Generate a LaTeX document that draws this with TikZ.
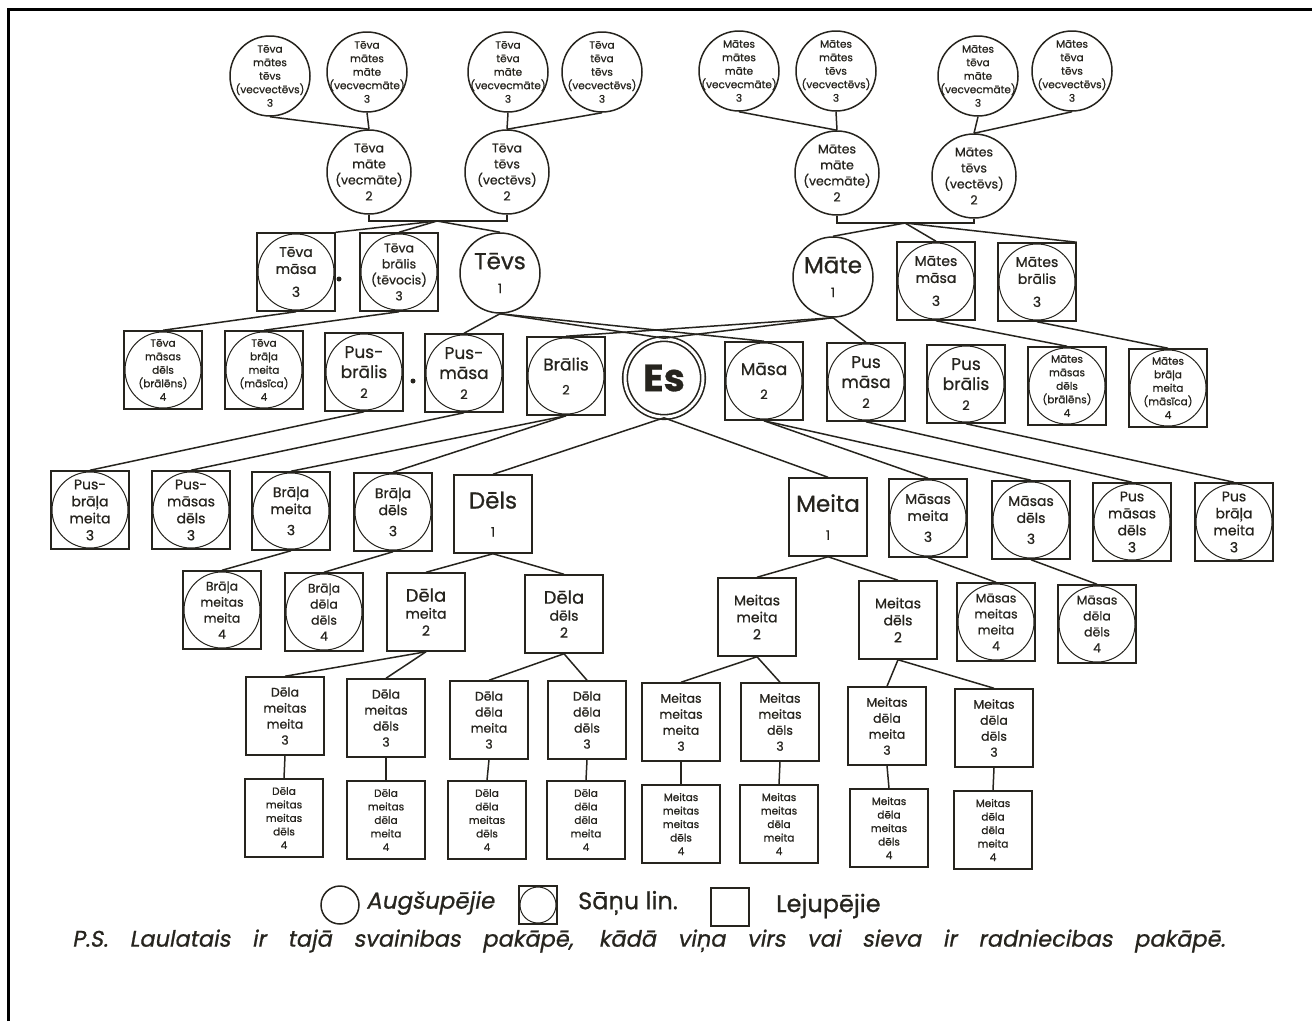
\documentclass[tikz,border=0pt]{standalone}
\usepackage{fontspec}
\newfontfamily\hand[FakeBold=0.8]{Poppins}
\newfontfamily\handsl[FakeSlant=0.18,FakeBold=0.8]{Poppins}
\definecolor{ink}{RGB}{38,36,30}
\tikzset{
  saite/.style={ink,line width=1.5pt},
  base/.style={draw=ink,line width=1.5pt,inner sep=-30pt,align=center,text=ink},
  augs/.style={base,circle,minimum size=80pt},
  leju/.style={base,rectangle,minimum size=78pt},
  sanu/.style={leju,path picture={\draw[ink,line width=1pt] (path picture bounding box.center) circle[radius=#1];}},
  sanu/.default=38pt,
  tfive/.style={font=\hand\fontsize{10.5}{13.5}\selectfont},
  tfour/.style={font=\hand\fontsize{12.5}{16}\selectfont},
  tthree/.style={font=\hand\fontsize{14}{17}\selectfont},
  ttwo/.style={font=\hand\fontsize{17}{20}\selectfont},
  tbig/.style={font=\hand\fontsize{23}{26}\selectfont},
  legtxt/.style={font=\hand\fontsize{24}{26}\selectfont,text=ink,anchor=west,inner sep=0pt}
}
\begin{document}
\begin{tikzpicture}[x=1pt,y=-1pt]
\useasboundingbox (0,0) rectangle (1312,1021);
\draw[black,line width=3pt] (8,1021) -- (8,9) -- (1312,9);

\node[augs,tfive] (tmt) at (270,76) {Tēva\\mātes\\tēvs\\(vecvectēvs)\\3};
\node[augs,tfive] (tmm) at (367,72) {Tēva\\mātes\\māte\\(vecvecmāte)\\3};
\node[augs,tfive] (ttm) at (508,72) {Tēva\\tēva\\māte\\(vecvecmāte)\\3};
\node[augs,tfive] (ttt) at (602,72) {Tēva\\tēva\\tēvs\\(vecvectēvs)\\3};
\node[augs,tfive] (mmm) at (739,71) {Mātes\\mātes\\māte\\(vecvecmāte)\\3};
\node[augs,tfive] (mmt) at (836,71) {Mātes\\mātes\\tēvs\\(vecvectēvs)\\3};
\node[augs,tfive] (mtm) at (978,76) {Mātes\\tēva\\māte\\(vecvecmāte)\\3};
\node[augs,tfive] (mtt) at (1072,71) {Mātes\\tēva\\tēvs\\(vecvectēvs)\\3};

\node[augs,tfour,minimum size=84pt] (tm) at (369,172) {Tēva\\māte\\(vecmāte)\\2};
\node[augs,tfour,minimum size=84pt] (tt) at (507,172) {Tēva\\tēvs\\(vectēvs)\\2};
\node[augs,tfour,minimum size=84pt] (mm) at (837,173) {Mātes\\māte\\(vecmāte)\\2};
\node[augs,tfour,minimum size=84pt] (mt) at (974,176) {Mātes\\tēvs\\(vectēvs)\\2};

\node[sanu,tthree] (tmasa) at (296,272) {Tēva\\māsa\\[6pt]3};
\node[sanu,tfour] (tbr) at (399,272) {Tēva\\brālis\\(tēvocis)\\3};
\node[augs,tbig] (tevs) at (500,273) {Tēvs\\[-2pt]{\fontsize{13}{13}\selectfont 1}};
\node[augs,tbig] (mate) at (833,277) {Māte\\[-2pt]{\fontsize{13}{13}\selectfont 1}};
\node[sanu,tthree] (mmasa) at (936,281) {Mātes\\māsa\\[6pt]3};
\node[sanu,tthree] (mbr) at (1037,282) {Mātes\\brālis\\[6pt]3};
\fill[ink] (339,279) circle (2.5);

\node[sanu,tfive] (tmd) at (163,370) {Tēva\\māsas\\dēls\\(brālēns)\\4};
\node[sanu,tfive] (tbm) at (264,370) {Tēva\\brāļa\\meita\\(māsīca)\\4};
\node[sanu,ttwo] (pbr) at (364,372) {Pus-\\brālis\\{\fontsize{13}{13}\selectfont 2}};
\fill[ink] (413,381) circle (2.5);
\node[sanu,ttwo] (pms) at (464,373) {Pus-\\māsa\\{\fontsize{13}{13}\selectfont 2}};
\node[sanu,ttwo] (bralis) at (566,376) {Brālis\\[4pt]{\fontsize{13}{13}\selectfont 2}};
\node[augs,minimum size=78pt,double=white,double distance=3pt,line width=1.6pt,
  font=\hand\bfseries\fontsize{38}{38}\selectfont] (es) at (664,378) {Es};
\node[sanu,ttwo] (masa) at (764,381) {Māsa\\[4pt]{\fontsize{13}{13}\selectfont 2}};
\node[sanu,ttwo] (pms2) at (866,382) {Pus\\māsa\\{\fontsize{13}{13}\selectfont 2}};
\node[sanu,ttwo] (pbr2) at (966,384) {Pus\\brālis\\{\fontsize{13}{13}\selectfont 2}};
\node[sanu,tfive] (mmd) at (1067,386) {Mātes\\māsas\\dēls\\(brālēns)\\4};
\node[sanu,tfive] (mbm) at (1168,388) {Mātes\\brāļa\\meita\\(māsīca)\\4};

\node[sanu,tthree] (pbm) at (90,510) {Pus-\\brāļa\\meita\\3};
\node[sanu,tthree] (pmd) at (191,510) {Pus-\\māsas\\dēls\\3};
\node[sanu,tthree] (bm) at (291,511) {Brāļa\\meita\\[4pt]3};
\node[sanu,tthree] (bd) at (393,512) {Brāļa\\dēls\\[4pt]3};
\node[leju,tbig] (dels) at (493,514) {Dēls\\[2pt]{\fontsize{13}{13}\selectfont 1}};
\node[leju,tbig] (meita) at (828,517) {Meita\\[2pt]{\fontsize{13}{13}\selectfont 1}};
\node[sanu,tthree] (msm) at (928,518) {Māsas\\meita\\[4pt]3};
\node[sanu,tthree] (msd) at (1031,520) {Māsas\\dēls\\[4pt]3};
\node[sanu,tthree] (pmd2) at (1132,522) {Pus\\māsas\\dēls\\3};
\node[sanu,tthree] (pbm2) at (1234,522) {Pus\\brāļa\\meita\\3};

\node[sanu,tfour] (bmm) at (222,610) {Brāļa\\meitas\\meita\\4};
\node[sanu,tfour] (bdd) at (324,612) {Brāļa\\dēla\\dēls\\4};
\node[leju,tthree] (dm) at (426,612) {{\fontsize{18}{18}\selectfont Dēla}\\meita\\2};
\node[leju,tthree] (dd) at (564,614) {{\fontsize{18}{18}\selectfont Dēla}\\dēls\\2};
\node[leju,tthree] (mmt2) at (757,617) {Meitas\\meita\\2};
\node[leju,tthree] (md) at (898,620) {Meitas\\dēls\\2};
\node[sanu,tfour] (msmm) at (996,622) {Māsas\\meitas\\meita\\4};
\node[sanu,tfour] (msdd) at (1097,624) {Māsas\\dēla\\dēls\\4};

\node[leju,tfour] (dmm) at (285,716) {Dēla\\meitas\\meita\\3};
\node[leju,tfour] (dmd) at (386,718) {Dēla\\meitas\\dēls\\3};
\node[leju,tfour] (ddm) at (489,720) {Dēla\\dēla\\meita\\3};
\node[leju,tfour] (ddd) at (587,720) {Dēla\\dēla\\dēls\\3};
\node[leju,tfour] (mmmt) at (681,722) {Meitas\\meitas\\meita\\3};
\node[leju,tfour] (mmdt) at (780,722) {Meitas\\meitas\\dēls\\3};
\node[leju,tfour] (mdm) at (887,726) {Meitas\\dēla\\meita\\3};
\node[leju,tfour] (mdd) at (994,728) {Meitas\\dēla\\dēls\\3};

\node[leju,tfive] (dmmd) at (284,818) {Dēla\\meitas\\meitas\\dēls\\4};
\node[leju,tfive] (dmdm) at (386,820) {Dēla\\meitas\\dēla\\meita\\4};
\node[leju,tfive] (ddmd) at (487,820) {Dēla\\dēla\\meitas\\dēls\\4};
\node[leju,tfive] (dddm) at (586,820) {Dēla\\dēla\\dēla\\meita\\4};
\node[leju,tfive] (mmmd) at (681,824) {Meitas\\meitas\\meitas\\dēls\\4};
\node[leju,tfive] (mmdm) at (779,824) {Meitas\\meitas\\dēla\\meita\\4};
\node[leju,tfive] (mdmd) at (889,828) {Meitas\\dēla\\meitas\\dēls\\4};
\node[leju,tfive] (mddm) at (993,830) {Meitas\\dēla\\dēla\\meita\\4};

\coordinate (tj) at (437,221);
\coordinate (mj) at (905,223);
\draw[saite] (tm.south) |- (tj) -| (tt.south);
\draw[saite] (mm.south) |- (mj) -| (mt.south);
\draw[saite] (tj) -- (tmasa.north east);
\draw[saite] (tj) -- (tbr.north);
\draw[saite] (tj) -- (tevs.north);
\draw[saite] (mj) -- (mate.north);
\draw[saite] (mj) -- (mmasa.north);
\draw[saite] (mj) -- (mbr.north east);

\foreach \a/\b in {tmt/tm,tmm/tm,ttm/tt,ttt/tt,mmm/mm,mmt/mm,mtm/mt,mtt/mt,
  tmasa/tmd,tbr/tbm,tevs/pms,tevs/es,tevs/masa,mate/es,mate/bralis,mate/pms2,mmasa/mmd,mbr/mbm,
  pbr/pbm,pms/pmd,bralis/bm,bralis/bd,es/dels,es/meita,masa/msm,masa/msd,pms2/pmd2,pbr2/pbm2,
  bm/bmm,bd/bdd,dels/dm,dels/dd,meita/mmt2,meita/md,msm/msmm,msd/msdd,
  dm/dmm,dm/dmd,dd/ddm,dd/ddd,mmt2/mmmt,mmt2/mmdt,md/mdm,md/mdd,
  dmm/dmmd,dmd/dmdm,ddm/ddmd,ddd/dddm,mmmt/mmmd,mmdt/mmdm,mdm/mdmd,mdd/mddm}
  \draw[saite] (\a.south) -- (\b.north);

\node[augs,minimum size=38pt,inner sep=0pt] (lega) at (340,905) {};
\node[legtxt,font=\handsl\fontsize{23}{26}\selectfont] (legat) at (366,903) {Augšupējie};
\node[sanu=18pt,minimum size=38pt,inner sep=0pt] (legs) at (538,905) {};
\node[legtxt] (legst) at (578,903) {Sāņu lin.};
\node[leju,minimum size=38pt,inner sep=0pt] (legl) at (730,907) {};
\node[legtxt] (leglt) at (776,906) {Lejupējie};
\node[anchor=west,inner sep=0pt,text=ink,font=\handsl\fontsize{22.5}{26}\selectfont] (ps) at (72,941)
  {\makebox[1153pt][s]{P.S. Laulatais ir tajā svainibas pakāpē, kādā viņa virs vai sieva ir radniecibas pakāpē.}};
\end{tikzpicture}
\end{document}
